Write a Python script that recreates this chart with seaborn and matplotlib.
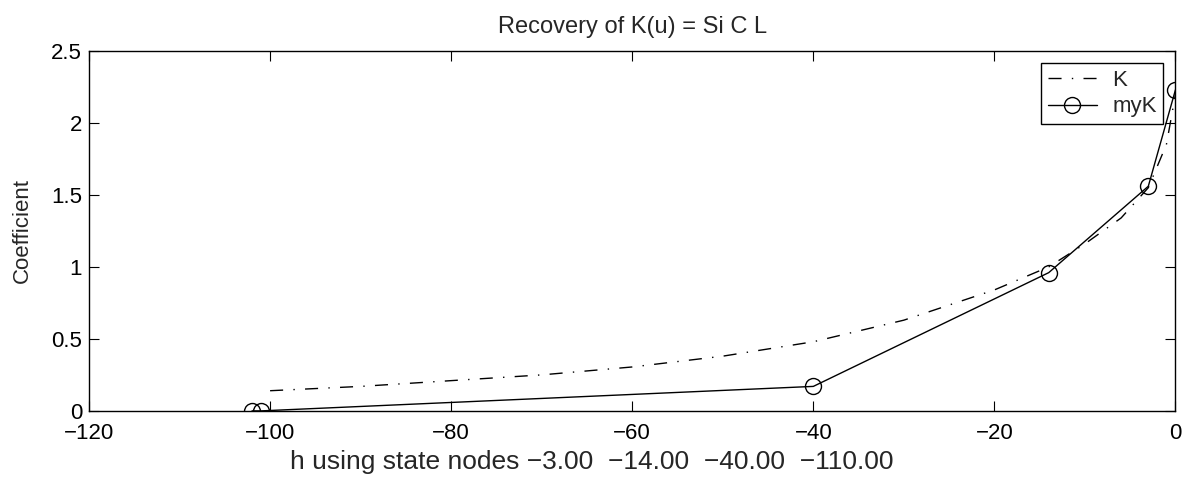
import matplotlib
matplotlib.use("Agg")
import matplotlib.pyplot as plt
import seaborn as sns
import pandas as pd

# Data
k_x = [-100, -90, -80, -70, -60, -50, -40, -30, -20, -14, -10, -6, -3, -1, 0]
k_y = [0.14, 0.17, 0.21, 0.25, 0.305, 0.38, 0.48, 0.63, 0.84, 1.0, 1.16, 1.34, 1.55, 1.85, 2.2]
myk_x = [-102, -101, -40, -14, -3, 0]
myk_y = [0.0, 0.0, 0.17, 0.96, 1.56, 2.23]

title = "Recovery of K(u) = Si C L"
xlabel = "h using state nodes \u22123.00  \u221214.00  \u221240.00  \u2212110.00"
ylabel = "Coefficient"
xticks = [-120, -100, -80, -60, -40, -20, 0]
yticks = [0, 0.5, 1, 1.5, 2, 2.5]

sns.set_style("ticks")
plt.rcParams["font.family"] = ["Liberation Sans", "DejaVu Sans"]
plt.rcParams["axes.unicode_minus"] = True

fig = plt.figure(figsize=(11.9, 4.8), dpi=100)
ax = fig.add_axes([0.0748, 0.144, 0.913, 0.750])

dk = pd.DataFrame({"x": k_x, "y": k_y})
dm = pd.DataFrame({"x": myk_x, "y": myk_y})

sns.lineplot(data=dk, x="x", y="y", ax=ax, color="black", linewidth=1.0,
             label="K", sort=False)
ax.lines[-1].set_dashes((9.4, 7.4, 1.0, 7.4))
sns.lineplot(data=dm, x="x", y="y", ax=ax, color="black", linewidth=1.0,
             marker="o", markersize=11.5, markerfacecolor="none",
             markeredgecolor="black", markeredgewidth=1.0, label="myK",
             sort=False)

ax.set_xlim(-120, 0)
ax.set_ylim(0, 2.5)
ax.set_xticks(xticks)
ax.set_yticks(yticks)
ax.set_xticklabels([f"{t:g}".replace("-", "\u2212") for t in xticks])
ax.set_yticklabels([f"{t:g}" for t in yticks])
ax.tick_params(axis="both", which="both", direction="in", length=7.2,
               width=0.8, labelsize=16, top=True, right=True, colors="black")
ax.tick_params(axis="x", pad=9)
ax.tick_params(axis="y", pad=5)
for s in ax.spines.values():
    s.set_visible(True)
    s.set_linewidth(1.0)
    s.set_color("black")

ax.set_title(title, fontsize=17, pad=13)
ax.set_xlabel(xlabel, fontsize=19)
ax.xaxis.set_label_coords(0.4623, -0.108)
ax.xaxis.label.set_va("top")
ax.set_ylabel(ylabel, fontsize=16, labelpad=13)

leg = ax.legend(loc="upper right", fontsize=16, frameon=True, fancybox=False,
                edgecolor="black", framealpha=1, handlelength=2.2,
                borderaxespad=0.55, borderpad=0.3, labelspacing=0.25,
                handletextpad=0.7)
leg.get_frame().set_linewidth(1.0)

fig.savefig("out.png", dpi=100)
